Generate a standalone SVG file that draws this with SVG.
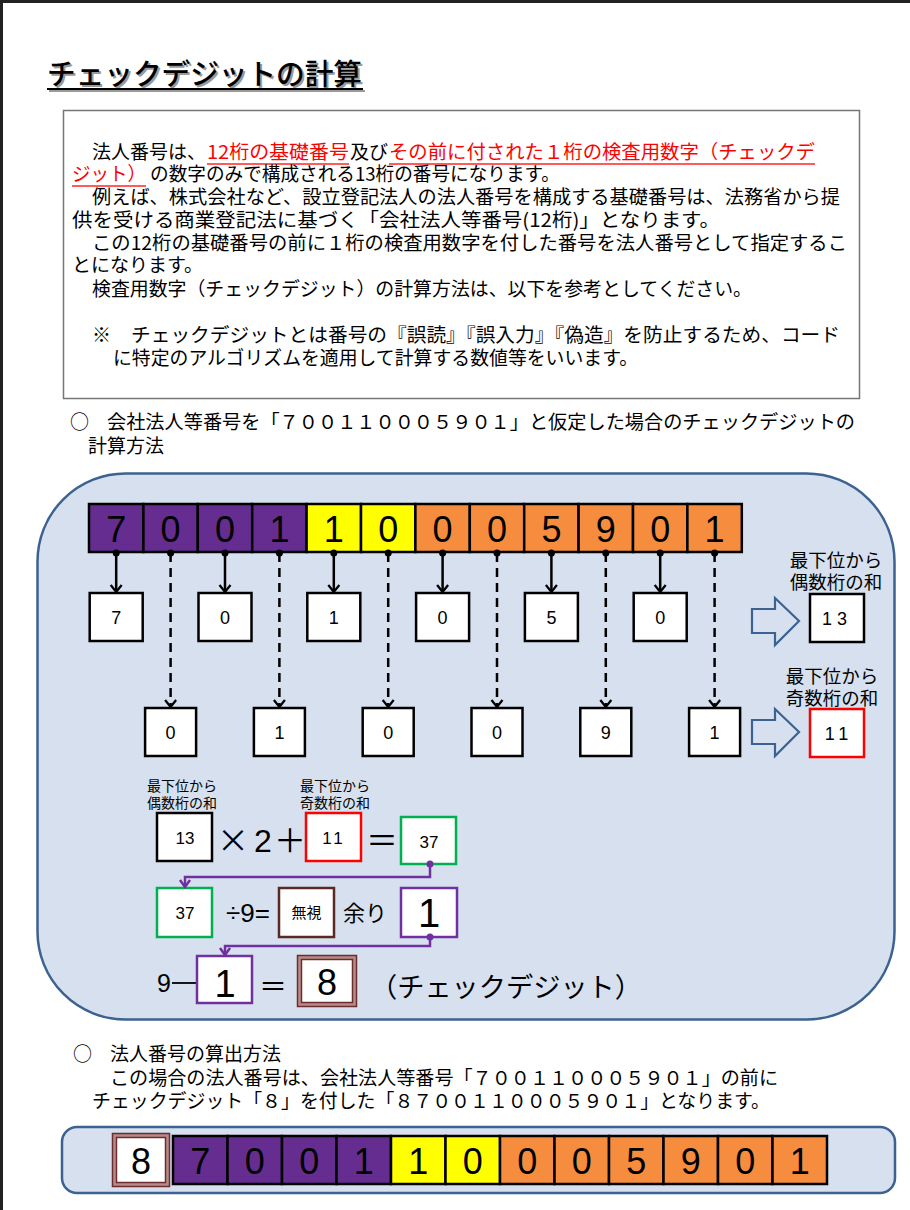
<svg xmlns="http://www.w3.org/2000/svg" width="910" height="1210" viewBox="0 0 910 1210">
<style>
.jp{font-family:"Noto Sans CJK JP","Noto Sans",sans-serif;fill:#000}
.dg{font-family:"Liberation Sans",Arial,sans-serif;fill:#000}
.red{fill:#ff0000}
.cellP{fill:#662d91;stroke:#000;stroke-width:2.5}
.cellY{fill:#ffff00;stroke:#000;stroke-width:2.5}
.cellO{fill:#f68d3e;stroke:#000;stroke-width:2.5}
.box{fill:#fff;stroke:#000;stroke-width:2.5}
.big{font-size:36px;text-anchor:middle}
.sm{font-size:18px;text-anchor:middle}
.solid{stroke:#000;stroke-width:2.5;fill:none;marker-end:url(#ah)}
.dash{stroke:#000;stroke-width:2.5;fill:none;stroke-dasharray:9 6;marker-end:url(#ah)}
.pur{stroke:#7030a0;stroke-width:2.5;fill:none;marker-end:url(#ahp)}
.barrow{fill:#d6e0ee;stroke:#3b6291;stroke-width:2.2}
</style>
<defs>
<marker id="ah" viewBox="-9 -7 11 14" refX="0" refY="0" markerWidth="11" markerHeight="14" markerUnits="userSpaceOnUse" orient="auto"><path d="M-7,-5.5 L0,0 L-7,5.5" fill="none" stroke="#000" stroke-width="2.3"/></marker>
<marker id="ahp" viewBox="-9 -7 11 14" refX="0" refY="0" markerWidth="11" markerHeight="14" markerUnits="userSpaceOnUse" orient="auto"><path d="M-7,-5 L0,0 L-7,5" fill="none" stroke="#7030a0" stroke-width="2.5"/></marker>
</defs>
<rect x="0" y="0" width="910" height="1210" fill="#fff"/>
<rect x="0" y="0" width="910" height="3" fill="#222"/>
<rect x="0" y="0" width="3" height="1210" fill="#222"/>

<g id="title">
<text class="jp" x="49" y="87" font-size="29" font-weight="500" textLength="315" lengthAdjust="spacingAndGlyphs" style="fill:#9a9a9a">チェックデジットの計算</text>
<line x1="49" y1="91" x2="365" y2="91" stroke="#9a9a9a" stroke-width="2"/>
<text class="jp" x="47" y="85" font-size="29" font-weight="500" textLength="315" lengthAdjust="spacingAndGlyphs">チェックデジットの計算</text>
<line x1="47" y1="89" x2="363" y2="89" stroke="#000" stroke-width="2"/>
</g>

<g id="intro">
<rect x="63.5" y="110.5" width="796" height="288" fill="#fff" stroke="#767676" stroke-width="1.5"/>
<g class="jp" font-size="19">
<text x="92" y="159">法人番号は、</text>
<text x="207" y="159" class="red" textLength="142" lengthAdjust="spacingAndGlyphs">12桁の基礎番号</text>
<text x="350" y="159" textLength="38">及び</text>
<text x="389" y="159" class="red" textLength="426" lengthAdjust="spacingAndGlyphs">その前に付された１桁の検査用数字（チェックデ</text>
<line x1="207" y1="164" x2="349" y2="164" stroke="#ff5b5b" stroke-width="2"/>
<line x1="389" y1="164" x2="815" y2="164" stroke="#ff5b5b" stroke-width="2"/>
<text x="72" y="181" class="red" textLength="74" lengthAdjust="spacingAndGlyphs">ジット）</text>
<line x1="72" y1="186" x2="146" y2="186" stroke="#ff5b5b" stroke-width="2"/>
<text x="150" y="181" textLength="410" lengthAdjust="spacingAndGlyphs">の数字のみで構成される13桁の番号になります。</text>
<text x="92" y="204" textLength="748" lengthAdjust="spacingAndGlyphs">例えば、株式会社など、設立登記法人の法人番号を構成する基礎番号は、法務省から提</text>
<text x="72" y="227" textLength="648" lengthAdjust="spacingAndGlyphs">供を受ける商業登記法に基づく「会社法人等番号(12桁)」となります。</text>
<text x="92" y="250" textLength="755" lengthAdjust="spacingAndGlyphs">この12桁の基礎番号の前に１桁の検査用数字を付した番号を法人番号として指定するこ</text>
<text x="72" y="272">とになります。</text>
<text x="92" y="296" textLength="660" lengthAdjust="spacingAndGlyphs">検査用数字（チェックデジット）の計算方法は、以下を参考としてください。</text>
<text x="92" y="342">※</text>
<text x="131" y="342" textLength="709" lengthAdjust="spacingAndGlyphs">チェックデジットとは番号の『誤読』『誤入力』『偽造』を防止するため、コード</text>
<text x="113" y="365" textLength="525" lengthAdjust="spacingAndGlyphs">に特定のアルゴリズムを適用して計算する数値等をいいます。</text>
</g>
</g>

<g id="heading1" class="jp" font-size="19">
<text x="70" y="429">○</text>
<text x="107" y="429" textLength="748" lengthAdjust="spacingAndGlyphs">会社法人等番号を「７００１１０００５９０１」と仮定した場合のチェックデジットの</text>
<text x="88" y="453">計算方法</text>
</g>

<g id="panel">
<rect x="37.5" y="473.5" width="857" height="546" rx="88" ry="88" fill="#d6e0ee" stroke="#3b6291" stroke-width="2.5"/>
</g>

<g id="digit-bar">
<rect class="cellP" x="89" y="504" width="54.4" height="48"/>
<rect class="cellP" x="143.4" y="504" width="54.4" height="48"/>
<rect class="cellP" x="197.8" y="504" width="54.4" height="48"/>
<rect class="cellP" x="252.2" y="504" width="54.4" height="48"/>
<rect class="cellY" x="306.6" y="504" width="54.4" height="48"/>
<rect class="cellY" x="361" y="504" width="54.4" height="48"/>
<rect class="cellO" x="415.4" y="504" width="54.4" height="48"/>
<rect class="cellO" x="469.8" y="504" width="54.4" height="48"/>
<rect class="cellO" x="524.2" y="504" width="54.4" height="48"/>
<rect class="cellO" x="578.6" y="504" width="54.4" height="48"/>
<rect class="cellO" x="633" y="504" width="54.4" height="48"/>
<rect class="cellO" x="687.4" y="504" width="54.4" height="48"/>
<g class="dg big">
<text x="116.2" y="542">7</text><text x="170.6" y="542">0</text><text x="225" y="542">0</text><text x="279.4" y="542">1</text>
<text x="333.8" y="542">1</text><text x="388.2" y="542">0</text><text x="442.6" y="542">0</text><text x="497" y="542">0</text>
<text x="551.4" y="542">5</text><text x="605.8" y="542">9</text><text x="660.2" y="542">0</text><text x="714.6" y="542">1</text>
</g>
</g>

<g id="even-digits">
<rect class="box" x="89.7" y="593" width="53" height="48"/><text class="dg sm" x="116.2" y="624">7</text>
<rect class="box" x="198.5" y="593" width="53" height="48"/><text class="dg sm" x="225" y="624">0</text>
<rect class="box" x="307.3" y="593" width="53" height="48"/><text class="dg sm" x="333.8" y="624">1</text>
<rect class="box" x="416.1" y="593" width="53" height="48"/><text class="dg sm" x="442.6" y="624">0</text>
<rect class="box" x="524.9" y="593" width="53" height="48"/><text class="dg sm" x="551.4" y="624">5</text>
<rect class="box" x="633.7" y="593" width="53" height="48"/><text class="dg sm" x="660.2" y="624">0</text>
</g>

<g id="odd-digits">
<rect class="box" x="145.1" y="708" width="51" height="48"/><text class="dg sm" x="170.6" y="739">0</text>
<rect class="box" x="253.9" y="708" width="51" height="48"/><text class="dg sm" x="279.4" y="739">1</text>
<rect class="box" x="362.7" y="708" width="51" height="48"/><text class="dg sm" x="388.2" y="739">0</text>
<rect class="box" x="471.5" y="708" width="51" height="48"/><text class="dg sm" x="497" y="739">0</text>
<rect class="box" x="580.3" y="708" width="51" height="48"/><text class="dg sm" x="605.8" y="739">9</text>
<rect class="box" x="689.1" y="708" width="51" height="48"/><text class="dg sm" x="714.6" y="739">1</text>
</g>

<g id="even-sum">
<text class="jp" x="836" y="567" font-size="18.5" text-anchor="middle">最下位から</text>
<text class="jp" x="836" y="589" font-size="18.5" text-anchor="middle">偶数桁の和</text>
<rect class="box" x="810" y="594" width="54" height="48"/>
<text class="dg" x="837" y="625" font-size="18" text-anchor="middle" letter-spacing="5">13</text>
</g>

<g id="odd-sum">
<text class="jp" x="832" y="683" font-size="18.5" text-anchor="middle">最下位から</text>
<text class="jp" x="832" y="705" font-size="18.5" text-anchor="middle">奇数桁の和</text>
<rect x="810" y="709" width="54" height="48" fill="#fff" stroke="#ff0000" stroke-width="2.5"/>
<text class="dg" x="839" y="740" font-size="18" text-anchor="middle" letter-spacing="5">11</text>
</g>

<g id="block-arrows">
<path class="barrow" d="M752,609 H775 V598 L799,621 L775,645 V633 H752 Z"/>
<path class="barrow" d="M752,720 H775 V709 L799,732 L775,756 V744 H752 Z"/>
</g>

<g id="formula1">
<text class="jp" x="147" y="791" font-size="14">最下位から</text>
<text class="jp" x="147" y="808" font-size="14">偶数桁の和</text>
<rect class="box" x="157" y="813" width="55" height="48"/>
<text class="dg" x="185" y="844" font-size="17" text-anchor="middle">13</text>
<text class="jp" x="233" y="852" font-size="32" text-anchor="middle">×</text>
<text class="dg" x="263" y="852" font-size="32" text-anchor="middle">2</text>
<text class="jp" x="290" y="852" font-size="32" text-anchor="middle">＋</text>
<text class="jp" x="300" y="791" font-size="14">最下位から</text>
<text class="jp" x="300" y="808" font-size="14">奇数桁の和</text>
<rect x="306" y="813" width="55" height="48" fill="#fff" stroke="#ff0000" stroke-width="2.5"/>
<text class="dg" x="334" y="844" font-size="17" text-anchor="middle" letter-spacing="3">11</text>
<text class="jp" x="382" y="852" font-size="32" text-anchor="middle">＝</text>
<rect x="401" y="817" width="55" height="47" fill="#fff" stroke="#00b050" stroke-width="2.5"/>
<text class="dg" x="429" y="848" font-size="17" text-anchor="middle">37</text>
</g>

<g id="formula2">
<rect x="157" y="888" width="55" height="49" fill="#fff" stroke="#00b050" stroke-width="2.5"/>
<text class="dg" x="185" y="919" font-size="17" text-anchor="middle">37</text>
<text class="dg" x="248" y="922" font-size="26" text-anchor="middle">÷9=</text>
<rect x="279" y="888" width="55" height="49" fill="#fff" stroke="#5a2a22" stroke-width="2.5"/>
<text class="jp" x="306.5" y="918" font-size="15" text-anchor="middle">無視</text>
<text class="jp" x="365" y="921" font-size="22" text-anchor="middle">余り</text>
<rect x="401" y="888" width="56" height="49" fill="#fff" stroke="#7030a0" stroke-width="2.5"/>
<text class="dg" x="429" y="927" font-size="40" text-anchor="middle">1</text>
</g>

<g id="formula3">
<text class="dg" x="157" y="992" font-size="25">9</text>
<line x1="172" y1="983" x2="196" y2="983" stroke="#000" stroke-width="1.8"/>
<rect x="197" y="956" width="55" height="47" fill="#fff" stroke="#7030a0" stroke-width="2.5"/>
<text class="dg" x="225" y="997" font-size="38" text-anchor="middle">1</text>
<text class="jp" x="273" y="997" font-size="28" text-anchor="middle">＝</text>
<rect x="297.5" y="955.5" width="59" height="51" fill="#b88a8a" stroke="#6b2d2d" stroke-width="1.5"/>
<rect x="301.5" y="959.5" width="51" height="43" fill="#fff" stroke="#6b2d2d" stroke-width="1.5"/>
<text class="dg" x="327" y="995" font-size="36" text-anchor="middle">8</text>
<text class="jp" x="370" y="997" font-size="27" textLength="272" lengthAdjust="spacingAndGlyphs">（チェックデジット）</text>
</g>

<g id="connectors">
<line class="solid" x1="116.2" y1="553" x2="116.2" y2="592"/>
<line class="solid" x1="225" y1="553" x2="225" y2="592"/>
<line class="solid" x1="333.8" y1="553" x2="333.8" y2="592"/>
<line class="solid" x1="442.6" y1="553" x2="442.6" y2="592"/>
<line class="solid" x1="551.4" y1="553" x2="551.4" y2="592"/>
<line class="solid" x1="660.2" y1="553" x2="660.2" y2="592"/>
<line class="dash" x1="170.6" y1="553" x2="170.6" y2="707"/>
<line class="dash" x1="279.4" y1="553" x2="279.4" y2="707"/>
<line class="dash" x1="388.2" y1="553" x2="388.2" y2="707"/>
<line class="dash" x1="497" y1="553" x2="497" y2="707"/>
<line class="dash" x1="605.8" y1="553" x2="605.8" y2="707"/>
<line class="dash" x1="714.6" y1="553" x2="714.6" y2="707"/>
<g fill="#000">
<circle cx="116.2" cy="553" r="3.5"/><circle cx="170.6" cy="553" r="3.5"/><circle cx="225" cy="553" r="3.5"/>
<circle cx="279.4" cy="553" r="3.5"/><circle cx="333.8" cy="553" r="3.5"/><circle cx="388.2" cy="553" r="3.5"/>
<circle cx="442.6" cy="553" r="3.5"/><circle cx="497" cy="553" r="3.5"/><circle cx="551.4" cy="553" r="3.5"/>
<circle cx="605.8" cy="553" r="3.5"/><circle cx="660.2" cy="553" r="3.5"/><circle cx="714.6" cy="553" r="3.5"/>
</g>
<path class="pur" d="M430,864 V877 H185 V887"/>
<path class="pur" d="M430,937 V946 H225 V955"/>
<circle cx="430" cy="864" r="3.5" fill="#7030a0"/>
<circle cx="430" cy="937" r="3.5" fill="#7030a0"/>
</g>

<g id="heading2" class="jp" font-size="19">
<text x="73" y="1061">○</text>
<text x="110" y="1061">法人番号の算出方法</text>
<text x="110" y="1085" textLength="668" lengthAdjust="spacingAndGlyphs">この場合の法人番号は、会社法人等番号「７００１１０００５９０１」の前に</text>
<text x="92" y="1108" textLength="678" lengthAdjust="spacingAndGlyphs">チェックデジット「８」を付した「８７００１１０００５９０１」となります。</text>
</g>

<g id="result-panel">
<rect x="62" y="1127" width="833" height="66" rx="15" ry="15" fill="#d6e0ee" stroke="#3b6291" stroke-width="2.5"/>
</g>

<g id="result-bar">
<rect x="112.5" y="1133.5" width="57" height="53" fill="#b88a8a" stroke="#6b2d2d" stroke-width="1.5"/>
<rect x="116.5" y="1137.5" width="49" height="45" fill="#fff" stroke="#6b2d2d" stroke-width="1.5"/>
<text class="dg big" x="141" y="1174">8</text>
<rect class="cellP" x="173" y="1136" width="54.5" height="48"/>
<rect class="cellP" x="227.5" y="1136" width="54.5" height="48"/>
<rect class="cellP" x="282" y="1136" width="54.5" height="48"/>
<rect class="cellP" x="336.5" y="1136" width="54.5" height="48"/>
<rect class="cellY" x="391" y="1136" width="54.5" height="48"/>
<rect class="cellY" x="445.5" y="1136" width="54.5" height="48"/>
<rect class="cellO" x="500" y="1136" width="54.5" height="48"/>
<rect class="cellO" x="554.5" y="1136" width="54.5" height="48"/>
<rect class="cellO" x="609" y="1136" width="54.5" height="48"/>
<rect class="cellO" x="663.5" y="1136" width="54.5" height="48"/>
<rect class="cellO" x="718" y="1136" width="54.5" height="48"/>
<rect class="cellO" x="772.5" y="1136" width="54.5" height="48"/>
<g class="dg big">
<text x="200.3" y="1174">7</text><text x="254.8" y="1174">0</text><text x="309.3" y="1174">0</text><text x="363.8" y="1174">1</text>
<text x="418.3" y="1174">1</text><text x="472.8" y="1174">0</text><text x="527.3" y="1174">0</text><text x="581.8" y="1174">0</text>
<text x="636.3" y="1174">5</text><text x="690.8" y="1174">9</text><text x="745.3" y="1174">0</text><text x="799.8" y="1174">1</text>
</g>
</g>
</svg>
